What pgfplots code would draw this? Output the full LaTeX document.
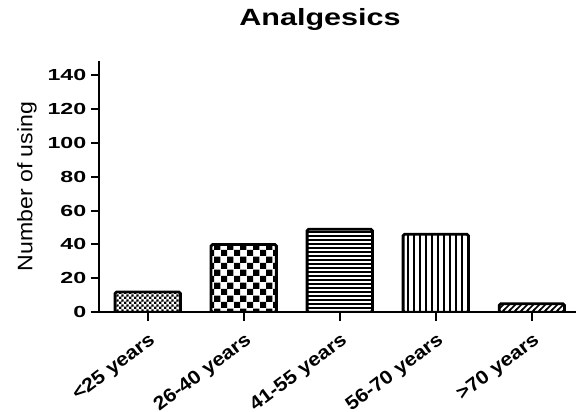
\documentclass[border=0pt]{standalone}
\usepackage{fontspec}
\setmainfont{Liberation Sans}
\newfontfamily\widefont{Liberation Sans}[FakeStretch=1.3]
\newfontfamily\tickfont{Liberation Sans}[FakeStretch=1.45]
\newfontfamily\xfont{Liberation Sans}[FakeStretch=1.12]
\newfontfamily\ylfont{Liberation Sans}[FakeStretch=1.1]
\usepackage{pgfplots}
\pgfplotsset{compat=1.18}
\usetikzlibrary{patterns}

\pgfdeclarepatternformonly{finechecker}{\pgfpointorigin}{\pgfqpoint{5.2pt}{5.2pt}}{\pgfqpoint{5.2pt}{5.2pt}}{%
  \pgfpathrectangle{\pgfpointorigin}{\pgfqpoint{2.65pt}{2.65pt}}%
  \pgfpathrectangle{\pgfqpoint{2.6pt}{2.6pt}}{\pgfqpoint{2.65pt}{2.65pt}}%
  \pgfusepath{fill}}
\pgfdeclarepatternformonly{bigchecker}{\pgfpointorigin}{\pgfqpoint{13pt}{13pt}}{\pgfqpoint{13pt}{13pt}}{%
  \pgfpathrectangle{\pgfpointorigin}{\pgfqpoint{6.55pt}{6.55pt}}%
  \pgfpathrectangle{\pgfqpoint{6.5pt}{6.5pt}}{\pgfqpoint{6.55pt}{6.55pt}}%
  \pgfusepath{fill}}
\pgfdeclarepatternformonly{hlines}{\pgfqpoint{-1pt}{-1pt}}{\pgfqpoint{5pt}{5pt}}{\pgfqpoint{4pt}{4pt}}{%
  \pgfsetlinewidth{1.1pt}%
  \pgfpathmoveto{\pgfqpoint{-1pt}{0pt}}\pgfpathlineto{\pgfqpoint{5pt}{0pt}}%
  \pgfusepath{stroke}}
\pgfdeclarepatternformonly{vlines}{\pgfqpoint{-1pt}{-1pt}}{\pgfqpoint{7pt}{7pt}}{\pgfqpoint{6pt}{6pt}}{%
  \pgfsetlinewidth{1.3pt}%
  \pgfpathmoveto{\pgfqpoint{0pt}{-1pt}}\pgfpathlineto{\pgfqpoint{0pt}{7pt}}%
  \pgfusepath{stroke}}
\pgfdeclarepatternformonly{nelines}{\pgfqpoint{-1pt}{-1pt}}{\pgfqpoint{7pt}{7pt}}{\pgfqpoint{6pt}{6pt}}{%
  \pgfsetlinewidth{1.5pt}%
  \pgfpathmoveto{\pgfqpoint{-1pt}{-1pt}}\pgfpathlineto{\pgfqpoint{7pt}{7pt}}%
  \pgfusepath{stroke}}

\begin{document}
\begin{tikzpicture}
\begin{axis}[
  at={(99.3pt,99.7pt)}, anchor=south west,
  scale only axis, width=476.7pt, height=251.6pt,
  xmin=0.496, xmax=5.46, ymin=0, ymax=148.4,
  axis lines=left,
  axis line style={-, line width=2.3pt, black},
  xtick={1,2,3,4,5},
  xticklabels={{<25 years},{26-40 years},{41-55 years},{56-70 years},{>70 years}},
  ytick={0,20,40,60,80,100,120,140},
  tick align=outside,
  major tick length=8.5pt,
  tick style={black, line width=2pt},
  /pgf/number format/assume math mode=true,
  yticklabel style={font=\tickfont\bfseries\fontsize{16}{16}\selectfont, xshift=-1pt},
  xticklabel style={font=\xfont\bfseries\fontsize{19}{19}\selectfont, rotate=37, anchor=north east, inner sep=1pt, xshift=-5pt, yshift=-7.5pt},
  title={Analgesics},
  title style={font=\widefont\bfseries\fontsize{23.5}{23.5}\selectfont, at={(rel axis cs:0.463,1.14)}, anchor=center},
  ylabel={Number of using},
  ylabel style={font=\ylfont\fontsize{21}{21}\selectfont, at={(rel axis cs:-0.1517,0.5)}, anchor=center},
  bar width=0.68,
]
\addplot[ybar, bar shift=0pt, draw=black, line width=2.8pt, pattern=finechecker, rounded corners=1.5pt] coordinates {(1,12)};
\addplot[ybar, bar shift=0pt, draw=black, line width=2.8pt, pattern=bigchecker, rounded corners=1.5pt] coordinates {(2,40)};
\addplot[ybar, bar shift=0pt, draw=black, line width=2.8pt, pattern=hlines, rounded corners=1.5pt] coordinates {(3,49)};
\addplot[ybar, bar shift=0pt, draw=black, line width=2.8pt, pattern=vlines, rounded corners=1.5pt] coordinates {(4,46)};
\addplot[ybar, bar shift=0pt, draw=black, line width=2.8pt, pattern=nelines, rounded corners=1.5pt] coordinates {(5,5)};
\end{axis}
\pgfresetboundingbox
\path (0pt,0pt) rectangle (576pt,412pt);
\end{tikzpicture}
\end{document}
